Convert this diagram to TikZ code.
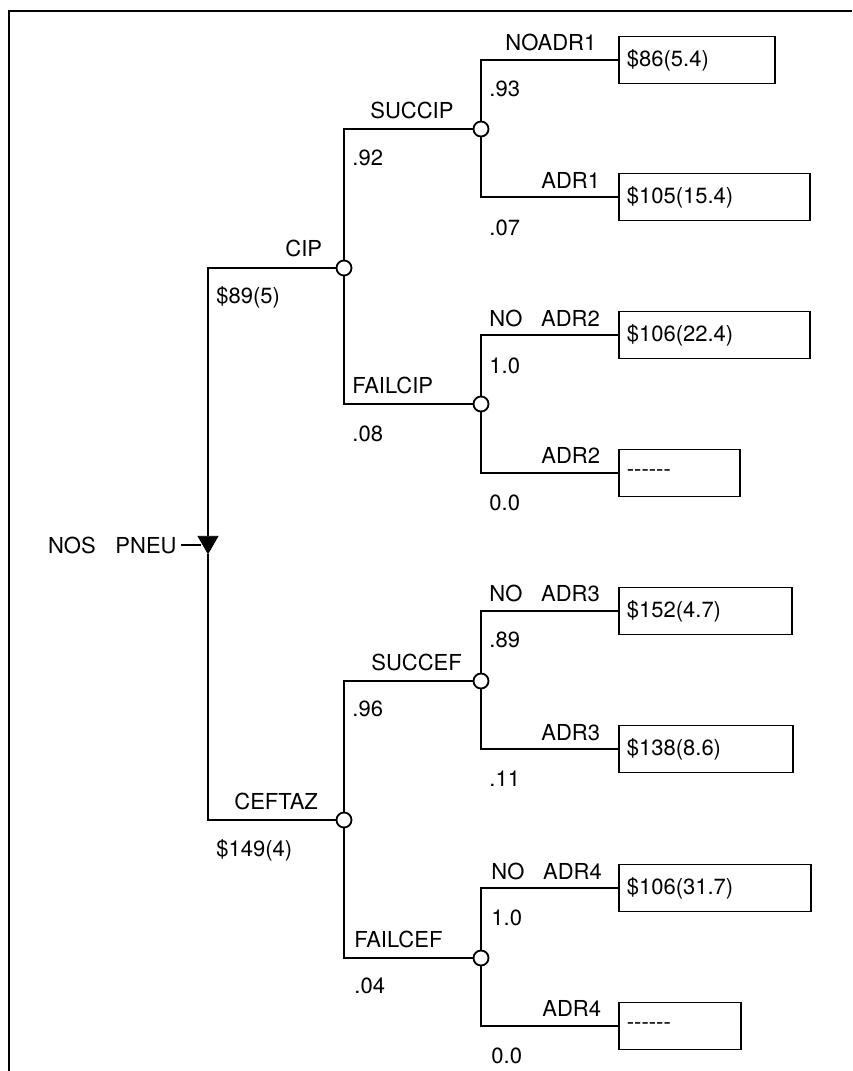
\documentclass[tikz,border=0pt]{standalone}
\usepackage{fontspec}
\setmainfont{TeX Gyre Heros}
\usetikzlibrary{shapes.geometric}
\newcommand{\nopayoff}{-\kern0pt-\kern0pt-\kern0pt-\kern0pt-\kern0pt-}

\begin{document}
\begin{tikzpicture}[
      x=0.5pt, y=-0.5pt,
      font=\fontsize{11}{13}\selectfont,
      decision/.style={regular polygon, regular polygon sides=3,
      shape border rotate=180, draw, fill=black, minimum size=11.5pt,
      inner sep=0pt},
      chance/.style={circle, draw, fill=white, line width=0.9pt,
      minimum size=7.5pt, inner sep=0pt},
      payoff/.style={draw, anchor=west, line width=0.9pt,
      minimum height=23.5pt, inner xsep=4pt, text width=#1, align=left},
      branch/.style={line width=0.9pt},
      frameline/.style={line width=1.1pt},
      lbl/.style={anchor=base west, inner sep=0pt}
    ]
    \useasboundingbox (0,0) rectangle (852,1071);
    \draw[frameline] (9,1071) -- (9,11) -- (852,11);

    \node[decision] (root) at (208,542) {};
    \node[anchor=east, inner sep=2pt] (nospneu) at (181,545)
    {NOS\hspace{0.9em}PNEU};

    \node[chance] (cip) at (344,268) {};
    \node[chance] (ceftaz) at (344,820) {};
    \node[chance] (succip) at (481,129) {};
    \node[chance] (failcip) at (481,404) {};
    \node[chance] (succef) at (481,681) {};
    \node[chance] (failcef) at (481,958) {};

    \node[payoff=70pt] (noadr1) at (618,60) {\$86(5.4)};
    \node[payoff=87.5pt] (adr1) at (618,197) {\$105(15.4)};
    \node[payoff=87.5pt] (noadr2) at (618,335) {\$106(22.4)};
    \node[payoff=52.5pt] (adr2) at (618,473) {\nopayoff};
    \node[payoff=78.5pt] (noadr3) at (618,611) {\$152(4.7)};
    \node[payoff=79pt] (adr3) at (618,749) {\$138(8.6)};
    \node[payoff=88pt] (noadr4) at (618,888) {\$106(31.7)};
    \node[payoff=53pt] (adr4) at (618,1026) {\nopayoff};

    \draw[branch] (nospneu.east) -- (nospneu.east -| root.west);
    \draw[branch] (root) |- (cip);
    \draw[branch] (root) |- (ceftaz);
    \draw[branch] (cip) |- (succip);
    \draw[branch] (cip) |- (failcip);
    \draw[branch] (ceftaz) |- (succef);
    \draw[branch] (ceftaz) |- (failcef);
    \draw[branch] (succip) |- (noadr1);
    \draw[branch] (succip) |- (adr1);
    \draw[branch] (failcip) |- (noadr2);
    \draw[branch] (failcip) |- (adr2);
    \draw[branch] (succef) |- (noadr3);
    \draw[branch] (succef) |- (adr3);
    \draw[branch] (failcef) |- (noadr4);
    \draw[branch] (failcef) |- (adr4);

    \node[lbl] (cipname) at (285,256) {CIP};
    \node[lbl] (cipcost) at (216,303) {\$89(5)};
    \node[lbl] (ceftazname) at (234,809) {CEFTAZ};
    \node[lbl] (ceftazcost) at (216,856) {\$149(4)};

    \node[lbl] (succipname) at (370,118) {SUCCIP};
    \node[lbl] (succipprob) at (352,165) {.92};
    \node[lbl] (failcipname) at (352,393) {FAILCIP};
    \node[lbl] (failcipprob) at (352,441) {.08};
    \node[lbl] (succefname) at (371,670) {SUCCEF};
    \node[lbl] (succefprob) at (352,716) {.96};
    \node[lbl] (failcefname) at (354,947) {FAILCEF};
    \node[lbl] (failcefprob) at (354,993) {.04};

    \node[lbl] (noadr1name) at (505,50) {NOADR1};
    \node[lbl] (noadr1prob) at (489,96) {.93};
    \node[lbl] (adr1name) at (541,188) {ADR1};
    \node[lbl] (adr1prob) at (489,235) {.07};
    \node[lbl] (noadr2name) at (489,326) {NO\hspace{0.85em}ADR2};
    \node[lbl] (noadr2prob) at (489,373) {1.0};
    \node[lbl] (adr2name) at (541,463) {ADR2};
    \node[lbl] (adr2prob) at (489,510) {0.0};
    \node[lbl] (noadr3name) at (489,601) {NO\hspace{0.85em}ADR3};
    \node[lbl] (noadr3prob) at (489,647) {.89};
    \node[lbl] (adr3name) at (541,740) {ADR3};
    \node[lbl] (adr3prob) at (489,786) {.11};
    \node[lbl] (noadr4name) at (491,879) {NO\hspace{0.85em}ADR4};
    \node[lbl] (noadr4prob) at (491,925) {1.0};
    \node[lbl] (adr4name) at (542,1016) {ADR4};
    \node[lbl] (adr4prob) at (491,1063) {0.0};
  \end{tikzpicture}
\end{document}
